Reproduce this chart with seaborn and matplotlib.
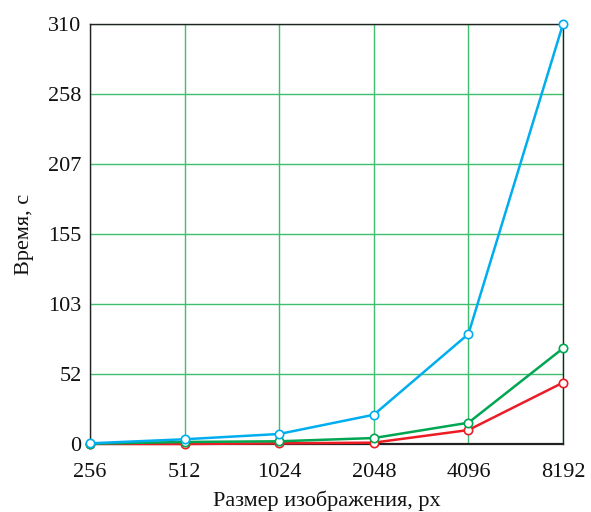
import numpy as np
import pandas as pd
import matplotlib
matplotlib.use("Agg")
import matplotlib.pyplot as plt
import seaborn as sns
from matplotlib.ticker import FixedLocator, FixedFormatter

sizes = [256, 512, 1024, 2048, 4096, 8192]
blue_vals = [0.5, 3.5, 7.4, 21.6, 81.2, 310]
green_vals = [0.2, 1.5, 2.0, 4.4, 15.7, 70.6]
red_vals = [0.1, 0.0, 0.5, 1.0, 10.3, 45.3]
series_names = ["red", "green", "blue"]
colors = {"red": "#ed1c24", "green": "#00a651", "blue": "#00aeef"}
y_ticks = [0, 310 / 6, 2 * 310 / 6, 3 * 310 / 6, 4 * 310 / 6, 5 * 310 / 6, 310]
y_labels = ["0", "52", "103", "155", "207", "258", "310"]
x_labels = ["256", "512", "1024", "2048", "4096", "8192"]

df = pd.concat([
    pd.DataFrame({"size": sizes, "time": red_vals, "s": "red"}),
    pd.DataFrame({"size": sizes, "time": green_vals, "s": "green"}),
    pd.DataFrame({"size": sizes, "time": blue_vals, "s": "blue"}),
])

sns.set_theme(style="white")
plt.rcParams["font.family"] = ["Liberation Serif", "DejaVu Serif"]

fig = plt.figure(figsize=(5.91, 5.12), dpi=100)
ax = fig.add_axes([90 / 591, 1 - 444 / 512, (563 - 90) / 591, (444 - 24) / 512])

sns.lineplot(data=df, x="size", y="time", hue="s", hue_order=series_names,
             palette=colors, marker="o", markersize=6, markerfacecolor="white",
             markeredgewidth=1.2, linewidth=1.8, legend=False, ax=ax,
             estimator=None, sort=False, clip_on=False, zorder=3)
for line in ax.get_lines():
    line.set_markeredgecolor(line.get_color())

ax.set_xscale("log", base=2)
ax.set_xlim(256, 8192)
ax.set_ylim(0, 310)
ax.xaxis.set_major_locator(FixedLocator(sizes))
ax.xaxis.set_major_formatter(FixedFormatter(x_labels))
ax.xaxis.set_minor_locator(FixedLocator([]))
ax.yaxis.set_major_locator(FixedLocator(y_ticks))
ax.yaxis.set_major_formatter(FixedFormatter(y_labels))

ax.grid(True, color="#3dbf6f", linewidth=1.0, zorder=0)
ax.set_axisbelow(True)
for sp in ax.spines.values():
    sp.set_color("#222222")
    sp.set_linewidth(1.0)
ax.spines["bottom"].set_linewidth(1.6)

ax.tick_params(axis="both", labelsize=16, colors="#111111", length=0)
ax.tick_params(axis="y", pad=6)
ax.tick_params(axis="x", pad=14)
ax.set_xlabel("Размер изображения, px", fontsize=16, color="#111111", labelpad=6)
ax.set_ylabel("Время, с", fontsize=16, color="#111111", labelpad=10)

fig.savefig("out.png", dpi=100)
